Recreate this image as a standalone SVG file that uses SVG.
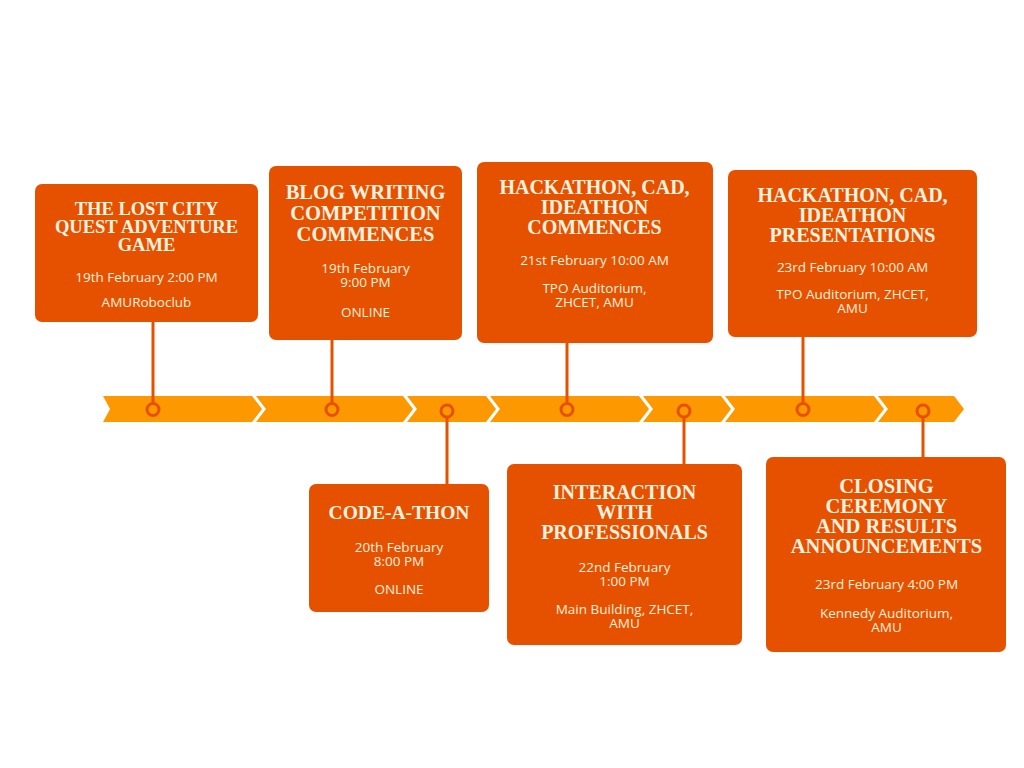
<svg xmlns="http://www.w3.org/2000/svg" width="1024" height="768" viewBox="0 0 1024 768">
<style>
.box{fill:#E65100;}
.seg{fill:#FD9800;}
.ln{stroke:#E65100;stroke-width:3;fill:none;}
.dot{stroke:#E65100;stroke-width:3;fill:none;}
.t{font-family:"Liberation Serif","DejaVu Serif",serif;font-weight:bold;fill:#FFF3E0;text-anchor:middle;font-size:20px;}
.b{font-family:"Open Sans","Noto Sans",sans-serif;fill:#FFF0DC;text-anchor:middle;font-size:13.5px;}
</style>
<rect width="1024" height="768" fill="#FFFFFF"/>
<g id="timeline">
<polygon class="seg" points="103,396 252,396 262,409 252,422 103,422 110,409"/>
<polygon class="seg" points="256,396 403,396 413,409 403,422 256,422 266,409"/>
<polygon class="seg" points="407,396 486,396 496,409 486,422 407,422 417,409"/>
<polygon class="seg" points="490,396 639,396 649,409 639,422 490,422 500,409"/>
<polygon class="seg" points="643,396 721,396 731,409 721,422 643,422 653,409"/>
<polygon class="seg" points="725,396 874,396 884,409 874,422 725,422 735,409"/>
<polygon class="seg" points="878,396 954,396 964,409 954,422 878,422 888,409"/>
</g>
<g id="connectors">
<line class="ln" x1="153" y1="322" x2="153" y2="402"/>
<line class="ln" x1="332" y1="340" x2="332" y2="402"/>
<line class="ln" x1="447" y1="418" x2="447" y2="485"/>
<line class="ln" x1="567" y1="343" x2="567" y2="402"/>
<line class="ln" x1="684" y1="418" x2="684" y2="464"/>
<line class="ln" x1="803" y1="336" x2="803" y2="402"/>
<line class="ln" x1="923" y1="418" x2="923" y2="457"/>
<circle class="dot" cx="153" cy="409.5" r="6"/>
<circle class="dot" cx="332" cy="409.5" r="6"/>
<circle class="dot" cx="447" cy="411" r="6"/>
<circle class="dot" cx="567" cy="409.5" r="6"/>
<circle class="dot" cx="684" cy="411" r="6"/>
<circle class="dot" cx="803" cy="409.5" r="6"/>
<circle class="dot" cx="923" cy="411" r="6"/>
</g>
<g id="node1">
<rect class="box" x="35" y="184" width="223" height="138" rx="7"/>
<text class="t" style="font-size:18.5px" x="146.5" y="215">THE LOST CITY</text>
<text class="t" style="font-size:18.5px" x="146.5" y="233">QUEST ADVENTURE</text>
<text class="t" style="font-size:18.5px" x="146.5" y="251">GAME</text>
<text class="b" x="146.5" y="281.5">19th February 2:00 PM</text>
<text class="b" x="146.5" y="306.5">AMURoboclub</text>
</g>
<g id="node2">
<rect class="box" x="269" y="166" width="193" height="174" rx="7"/>
<text class="t" style="font-size:20.5px" x="365.5" y="198.5">BLOG WRITING</text>
<text class="t" style="font-size:20.5px" x="365.5" y="219.5">COMPETITION</text>
<text class="t" style="font-size:20.5px" x="365.5" y="240.5">COMMENCES</text>
<text class="b" x="365.5" y="273">19th February</text>
<text class="b" x="365.5" y="286.5">9:00 PM</text>
<text class="b" x="365.5" y="316.5">ONLINE</text>
</g>
<g id="node3">
<rect class="box" x="477" y="162" width="236" height="181" rx="7"/>
<text class="t" x="594.5" y="194">HACKATHON, CAD,</text>
<text class="t" x="594.5" y="214">IDEATHON</text>
<text class="t" x="594.5" y="233.5">COMMENCES</text>
<text class="b" x="594.5" y="265">21st February 10:00 AM</text>
<text class="b" x="594.5" y="293">TPO Auditorium,</text>
<text class="b" x="594.5" y="306.5">ZHCET, AMU</text>
</g>
<g id="node4">
<rect class="box" x="728" y="170" width="249" height="167" rx="7"/>
<text class="t" x="852.5" y="201.5">HACKATHON, CAD,</text>
<text class="t" x="852.5" y="221.5">IDEATHON</text>
<text class="t" x="852.5" y="241.5">PRESENTATIONS</text>
<text class="b" x="852.5" y="272">23rd February 10:00 AM</text>
<text class="b" x="852.5" y="299">TPO Auditorium, ZHCET,</text>
<text class="b" x="852.5" y="313">AMU</text>
</g>
<g id="node5">
<rect class="box" x="309" y="484" width="180" height="128" rx="7"/>
<text class="t" style="font-size:19.5px" x="399" y="519">CODE-A-THON</text>
<text class="b" x="399" y="551.5">20th February</text>
<text class="b" x="399" y="565.5">8:00 PM</text>
<text class="b" x="399" y="594">ONLINE</text>
</g>
<g id="node6">
<rect class="box" x="507" y="464" width="235" height="181" rx="7"/>
<text class="t" x="624.5" y="499">INTERACTION</text>
<text class="t" x="624.5" y="519">WITH</text>
<text class="t" x="624.5" y="538.5">PROFESSIONALS</text>
<text class="b" x="624.5" y="572">22nd February</text>
<text class="b" x="624.5" y="585.5">1:00 PM</text>
<text class="b" x="624.5" y="614">Main Building, ZHCET,</text>
<text class="b" x="624.5" y="627.5">AMU</text>
</g>
<g id="node7">
<rect class="box" x="766" y="457" width="240" height="195" rx="7"/>
<text class="t" style="font-size:20.5px" x="886.5" y="492.5">CLOSING</text>
<text class="t" style="font-size:20.5px" x="886.5" y="513">CEREMONY</text>
<text class="t" style="font-size:20.5px" x="886.5" y="533">AND RESULTS</text>
<text class="t" style="font-size:20.5px" x="886.5" y="553">ANNOUNCEMENTS</text>
<text class="b" x="886.5" y="589">23rd February 4:00 PM</text>
<text class="b" x="886.5" y="617.5">Kennedy Auditorium,</text>
<text class="b" x="886.5" y="632">AMU</text>
</g>
</svg>
